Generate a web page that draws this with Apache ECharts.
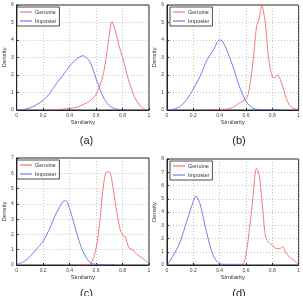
<!DOCTYPE html>
<html>
<head>
<meta charset="utf-8">
<script src="https://cdn.jsdelivr.net/npm/echarts@6/dist/echarts.min.js"></script>
<style>
  html, body { margin: 0; padding: 0; background: #fff; }
  #main { width: 303px; height: 296px; }
</style>
</head>
<body>
<div id="main"></div>
<script>
// similarity vs density
const captions = ["(a)", "(b)", "(c)", "(d)"];
const xTicks = [0, 0.2, 0.4, 0.6, 0.8, 1];
const yMax = [6, 6, 7, 8];

const imposterA = [[0,0],[0.05,0.03],[0.1,0.12],[0.15,0.3],[0.2,0.55],[0.25,0.95],[0.3,1.5],[0.35,2.0],[0.4,2.5],[0.45,2.9],[0.5,3.1],[0.55,2.8],[0.6,1.8],[0.65,0.8],[0.7,0.25],[0.75,0.06],[0.8,0.01],[0.85,0]];
const genuineA = [[0.25,0],[0.3,0.02],[0.35,0.05],[0.4,0.1],[0.45,0.15],[0.5,0.3],[0.55,0.5],[0.6,0.9],[0.65,1.9],[0.68,3.2],[0.7,4.3],[0.72,5.05],[0.75,4.4],[0.78,3.5],[0.8,3.0],[0.85,1.6],[0.9,0.6],[0.95,0.12],[0.98,0.02]];

const imposterB = [[0,0],[0.05,0.05],[0.1,0.2],[0.15,0.6],[0.2,1.2],[0.25,1.9],[0.3,2.8],[0.35,3.4],[0.4,4.0],[0.42,3.95],[0.45,3.5],[0.5,2.5],[0.55,1.35],[0.6,0.5],[0.65,0.12],[0.7,0.03],[0.75,0.02],[0.85,0.02]];
const genuineB = [[0.3,0.02],[0.4,0.03],[0.45,0.05],[0.5,0.15],[0.55,0.4],[0.6,0.65],[0.62,1.0],[0.65,2.5],[0.68,4.75],[0.7,5.2],[0.72,6.0],[0.75,4.75],[0.77,3.05],[0.8,1.9],[0.82,1.85],[0.84,2.0],[0.87,1.55],[0.9,0.8],[0.93,0.3],[0.96,0.1],[1,0.05]];

const imposterC = [[0,0.05],[0.05,0.2],[0.1,0.55],[0.15,1.05],[0.2,1.55],[0.25,2.4],[0.3,3.4],[0.35,4.15],[0.37,4.2],[0.4,3.7],[0.45,2.2],[0.5,0.9],[0.55,0.2],[0.6,0.04],[0.65,0.02],[0.75,0.02]];
const genuineC = [[0.45,0],[0.55,0.05],[0.6,1.1],[0.63,3.0],[0.65,4.8],[0.68,6.1],[0.7,6.1],[0.72,5.5],[0.75,3.8],[0.78,2.4],[0.8,1.95],[0.82,1.85],[0.85,1.1],[0.88,1.0],[0.9,0.75],[0.95,0.45],[1,0.1]];

const imposterD = [[0,0],[0.05,0.75],[0.1,1.75],[0.15,3.3],[0.2,4.8],[0.22,5.2],[0.25,4.65],[0.3,2.5],[0.35,0.75],[0.4,0.1],[0.45,0.05],[0.58,0.05]];
const genuineD = [[0.58,0],[0.6,0.75],[0.63,3.0],[0.65,4.8],[0.68,7.3],[0.7,6.8],[0.72,5.0],[0.75,2.1],[0.78,1.65],[0.8,1.5],[0.83,1.25],[0.86,1.25],[0.88,1.4],[0.9,1.0],[0.93,0.6],[0.96,0.4],[1,0.05]];

const genuine = [genuineA, genuineB, genuineC, genuineD];
const imposter = [imposterA, imposterB, imposterC, imposterD];

// plot boxes (left, top, width, height)
const boxes = [
  [14, 5, 135, 105],
  [167, 5, 134, 105],
  [14, 158, 135, 107],
  [167, 159, 134, 106]
];

const red = "#f25c5c";
const blue = "#5a5af0";

let grids = [], xAxes = [], yAxes = [], series = [], legends = [], titles = [];
for (let i = 0; i < 4; i++) {
  const b = boxes[i];
  grids.push({
    left: b[0], top: b[1], width: b[2], height: b[3],
    show: true, borderColor: "#222", borderWidth: 1, backgroundColor: "#fff"
  });
  xAxes.push({
    gridIndex: i, type: "value", min: 0, max: 1, interval: 0.2,
    name: "Similarity", nameLocation: "middle", nameGap: 9,
    nameTextStyle: { fontSize: 6, color: "#333", fontFamily: "Liberation Sans" },
    axisLine: { show: true, lineStyle: { color: "#222", width: 1 } },
    axisTick: { show: true, inside: true, length: 2, lineStyle: { color: "#222" } },
    axisLabel: { fontSize: 5, color: "#444", margin: 3, fontFamily: "Liberation Sans",
      formatter: v => String(Math.round(v * 10) / 10) },
    splitLine: { show: true, lineStyle: { color: "#9a9a9a", type: [1, 2], width: 0.6 } }
  });
  yAxes.push({
    gridIndex: i, type: "value", min: 0, max: yMax[i], interval: 1,
    name: "Density", nameLocation: "middle", nameGap: 8, nameRotate: 90,
    nameTextStyle: { fontSize: 6, color: "#333", fontFamily: "Liberation Sans" },
    axisLine: { show: true, lineStyle: { color: "#222", width: 1 } },
    axisTick: { show: true, inside: true, length: 2, lineStyle: { color: "#222" } },
    axisLabel: { fontSize: 5, color: "#444", margin: 3, fontFamily: "Liberation Sans" },
    splitLine: { show: true, lineStyle: { color: "#9a9a9a", type: [1, 2], width: 0.6 } }
  });
  series.push({
    name: "Genuine" + i, type: "line", xAxisIndex: i, yAxisIndex: i,
    data: genuine[i], smooth: 0.3, symbol: "none",
    lineStyle: { color: red, width: 0.8 }, itemStyle: { color: red }
  });
  series.push({
    name: "Imposter" + i, type: "line", xAxisIndex: i, yAxisIndex: i,
    data: imposter[i], smooth: 0.3, symbol: "none",
    lineStyle: { color: blue, width: 0.8 }, itemStyle: { color: blue }
  });
  legends.push({
    data: ["Genuine" + i, "Imposter" + i],
    formatter: n => n.replace(/\d$/, ""),
    orient: "vertical",
    left: b[0] + 3, top: b[1] + 2,
    itemWidth: 12, itemHeight: 1, itemGap: 3, icon: "rect",
    padding: [2, 3, 2, 3],
    backgroundColor: "#fff", borderColor: "#222", borderWidth: 0.8,
    textStyle: { fontSize: 5.5, color: "#333", fontFamily: "Liberation Sans", padding: [0, 0, 0, -2] }
  });
  titles.push({
    text: captions[i],
    left: b[0] + b[2] / 2, textAlign: "center",
    top: i < 2 ? 130 : 283,
    textStyle: { fontSize: 11, fontWeight: "normal", color: "#222", fontFamily: "Liberation Sans" }
  });
}

const myChart = echarts.init(document.getElementById("main"), null, { renderer: "canvas" });
myChart.setOption({
  backgroundColor: "#fff",
  animation: false,
  title: titles,
  legend: legends,
  grid: grids,
  xAxis: xAxes,
  yAxis: yAxes,
  series: series
});
</script>
</body>
</html>
